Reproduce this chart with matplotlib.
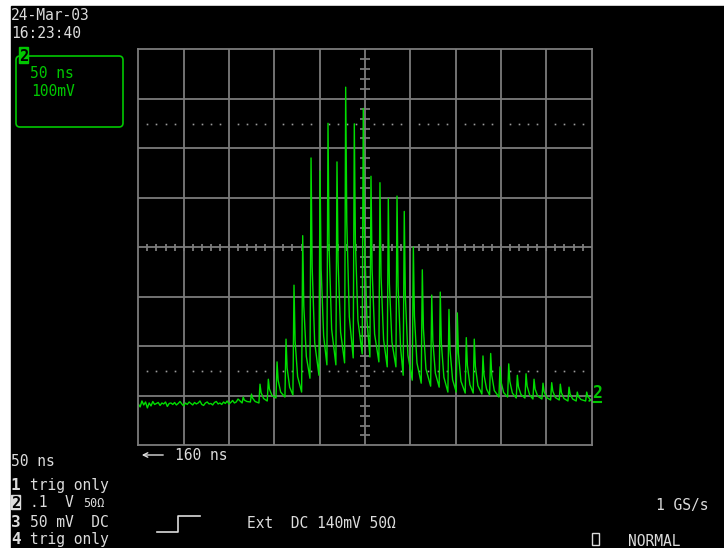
import numpy as np
import matplotlib.pyplot as plt
from matplotlib.patches import Rectangle, FancyBboxPatch

W, H = 724, 548

# channel 2 record: 50 ns/div, 100 mV/div, 1 GS/s
base_dt = 2.0
baseline_mv = [-8, -14, -2, -10, -4, -16, -6, -12, -3, -9,
               -7, -5, -11, -6, -8, -4, -13, -7, -6, -9,
               -5, -10, -7, -3, -8, -12, -6, -9, -4, -7,
               -10, -5, -8, -6, -2, -9, -11, -6, -4, -8,
               -7, -10, -5, -3, -8, -6, -9, -4, -7, -2,
               -8, -5, -1, -6, -4, 2]

spike_ns = [115.7, 124.8, 134.2, 143.4, 153.0, 162.9, 171.7, 181.3, 190.5, 200.4,
            209.2, 219.1, 228.7, 238.2, 248.1, 256.6, 266.5, 275.7, 285.3, 293.3,
            303.3, 313.2, 323.6, 333.0, 342.6, 351.8, 361.7, 370.5, 380.1, 388.6,
            398.9, 408.5, 418.0, 427.6, 436.4, 446.3, 455.9, 465.4, 475.0, 484.1,
            494.5]
peak_mv = [6, 12, 32, 42, 77, 123, 232, 332, 489, 463,
           559, 481, 632, 558, 589, 452, 439, 407, 412, 381,
           309, 263, 212, 218, 183, 176, 126, 123, 89, 94,
           67, 73, 50, 53, 42, 34, 35, 32, 26, 16,
           16]
shoulder_mv = [0, 4, 15, 22, 40, 65, 120, 190, 270, 265,
               310, 280, 360, 320, 340, 265, 250, 235, 230, 210,
               170, 145, 120, 115, 100, 95, 70, 68, 50, 50,
               36, 38, 27, 28, 22, 17, 18, 15, 12, 7,
               7]
decay_mv = [-3, -3, 3, 9, 16, 26, 47, 88, 116, 129,
            143, 137, 168, 161, 163, 133, 122, 117, 104, 91,
            75, 63, 54, 46, 41, 38, 31, 29, 22, 19,
            15, 14, 11, 10, 8, 5, 5, 3, 2, 1,
            1]
trough_mv = [-6, -4, -6, -2, 4, 6, 10, 16, 44, 50,
             71, 71, 75, 85, 93, 87, 77, 67, 67, 50,
             40, 34, 28, 26, 16, 16, 14, 14, 12, 10,
             6, 6, 4, 4, 2, 2, 0, 0, -2, -2,
             -2]
tail_ns = [497.0, 500.0]
tail_mv = [-2, 0]

y_bottom = -91.5          # ground sits 0.915 div above the bottom line
x_div, y_div = 50, 100

t = [base_dt * i for i in range(len(baseline_mv))]
v = list(baseline_mv)
for ts, tr, pk, sh, dc in zip(spike_ns, trough_mv, peak_mv, shoulder_mv, decay_mv):
    t += [ts - 1.2, ts, ts + 1.2, ts + 4.0]
    v += [tr, pk, sh, dc]
t += tail_ns
v += tail_mv

fig = plt.figure(figsize=(W / 100, H / 100), dpi=100, facecolor='white')

# pixel-space layer for the screen background and annotations
bg = fig.add_axes([0, 0, 1, 1], zorder=0)
bg.set_xlim(0, W)
bg.set_ylim(H, 0)
bg.axis('off')
bg.add_patch(Rectangle((11, 6), W - 11, H - 6, color='black'))

grey = '#7c7c7c'
ax = fig.add_axes([138.3 / W, 1 - 445.3 / H, 453.4 / W, 396 / H], zorder=1)
ax.set_facecolor('black')
ax.set_xlim(0, 500)
ax.set_ylim(y_bottom, y_bottom + 8 * y_div)
ax.set_xticks([])
ax.set_yticks([])
for s in ax.spines.values():
    s.set_color(grey)
    s.set_linewidth(1.3)

for k in range(1, 10):
    ax.axvline(k * x_div, color=grey, lw=1.3)
for k in range(1, 8):
    ax.axhline(y_bottom + k * y_div, color=grey, lw=1.3)

# minor ticks along the centre cross
yc = y_bottom + 4 * y_div
ax.hlines([y_bottom + 20 * j for j in range(1, 40)], 250 - 5.5, 250 + 5.5, color=grey, lw=1.3)
ax.vlines([10 * j for j in range(1, 50)], yc - 7, yc + 7, color=grey, lw=1.3)

# dotted rows 1.5 div in from top and bottom
xd = [10 * j for j in range(1, 50) if j % 5]
for yd in (y_bottom + 150, y_bottom + 650):
    ax.plot(xd, [yd] * len(xd), ls='none', marker='s', ms=1.2, mew=0, color='#9a9a9a')

ax.plot(t, v, color='#00dd00', lw=1.0)

mono = 'DejaVu Sans Mono'
white = '#dcdcdc'
green = '#00c800'


def txt(x, y, s, color=white, size=10.5, **kw):
    bg.text(x, y, s, color=color, fontsize=size, family=mono, va='baseline', ha='left', **kw)


txt(11, 20.5, '24-Mar-03')
txt(11, 38, '16:23:40')

# channel 2 settings box
bg.add_patch(FancyBboxPatch((16, 56), 107, 71, boxstyle='round,pad=0,rounding_size=4',
                            fill=False, ec=green, lw=1.2))
bg.add_patch(Rectangle((19, 47), 9, 16, color=green))
txt(19.5, 61, '2', color='black', size=11, weight='bold')
txt(30, 77.5, '50 ns', color=green)
txt(31, 95.5, '100mV', color=green)

txt(11, 466, '50 ns')
bg.annotate('', xy=(139, 455), xytext=(166, 455),
            arrowprops=dict(arrowstyle='->', color=white, lw=1.0, mutation_scale=8))
txt(175, 460.5, '160 ns')

txt(11, 490, '1', weight='bold', size=11.5)
txt(30, 490, 'trig only')
bg.add_patch(Rectangle((11, 495), 9, 14, color=white))
txt(11.5, 507.5, '2', color='black', weight='bold', size=11)
txt(30, 507, '.1  V')
txt(83, 507, '50\u03a9', size=8.5)
txt(11, 527, '3', weight='bold', size=11.5)
txt(30, 527, '50 mV  DC')
txt(11, 544, '4', weight='bold', size=11.5)
txt(30, 544, 'trig only')

# trigger slope symbol
bg.plot([157, 178, 178, 200], [532, 532, 516, 516], color=white, lw=1.2)
txt(247, 528, 'Ext  DC 140mV 50\u03a9')
txt(656, 510, '1 GS/s')
bg.add_patch(Rectangle((591.5, 533), 7.5, 12, fill=False, ec=white, lw=1.0))
txt(628, 546, 'NORMAL')

# ground marker for channel 2
txt(592, 398, '2', color=green, size=12, weight='bold')
bg.plot([592, 601], [402, 402], color=green, lw=1.5)

fig.savefig('out.png', dpi=100, facecolor='white')
